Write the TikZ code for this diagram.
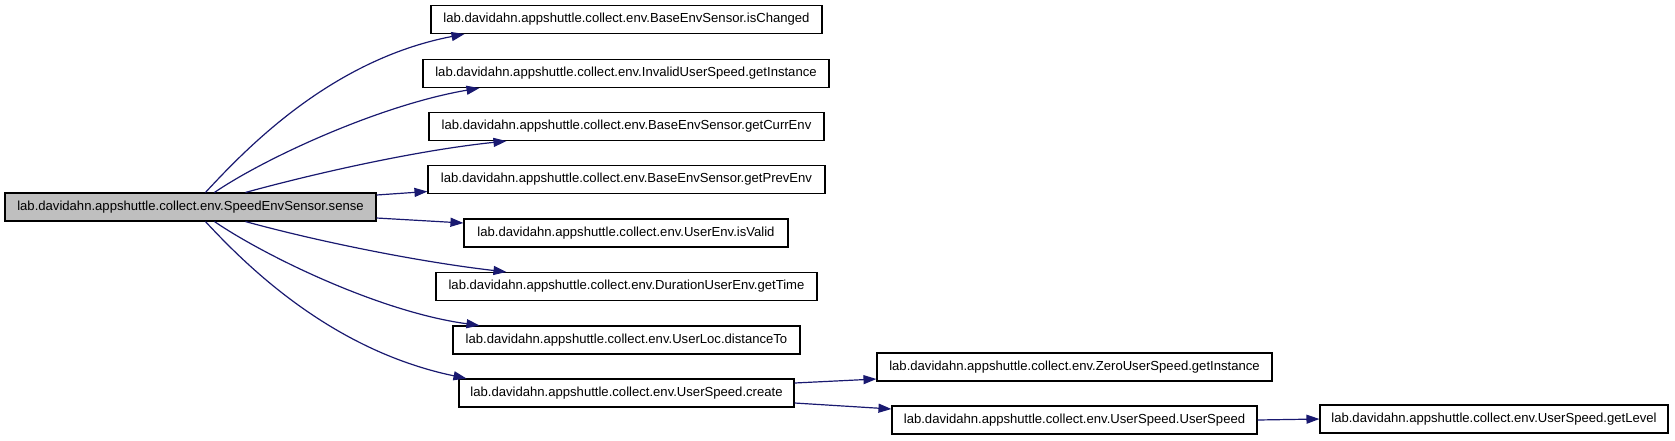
\documentclass[tikz,border=0pt]{standalone}
\usepackage{fontspec}
\setmainfont{Liberation Sans}
\usetikzlibrary{arrows.meta,calc}
\definecolor{edgeblue}{HTML}{191970}
\definecolor{mainfill}{HTML}{BFBFBF}
\tikzset{
  fn/.style={draw=black, line width=1.1pt, fill=white, minimum height=28pt, inner sep=0pt,
    font=\fontsize{13.1}{15}\selectfont, anchor=center},
  mainfn/.style={fn, fill=mainfill},
  call/.style={draw=edgeblue, line width=1.2pt, -{Triangle[length=13pt,width=9pt]}}
}
\begin{document}
\begin{tikzpicture}[x=1pt,y=-1pt]
\useasboundingbox (0,0) rectangle (1675,440);
\node[mainfn, minimum width=371pt] (main) at (190.5,207) {lab.davidahn.appshuttle.collect.env.SpeedEnvSensor.sense};
\node[fn, minimum width=391pt] (isch) at (626.5,19.5) {lab.davidahn.appshuttle.collect.env.BaseEnvSensor.isChanged};
\node[fn, minimum width=406pt] (inv) at (626,73.5) {lab.davidahn.appshuttle.collect.env.InvalidUserSpeed.getInstance};
\node[fn, minimum width=395pt] (curr) at (626.5,126.5) {lab.davidahn.appshuttle.collect.env.BaseEnvSensor.getCurrEnv};
\node[fn, minimum width=397pt] (prev) at (626.5,179.5) {lab.davidahn.appshuttle.collect.env.BaseEnvSensor.getPrevEnv};
\node[fn, minimum width=324pt] (valid) at (626,233) {lab.davidahn.appshuttle.collect.env.UserEnv.isValid};
\node[fn, minimum width=381pt] (time) at (626.5,286.5) {lab.davidahn.appshuttle.collect.env.DurationUserEnv.getTime};
\node[fn, minimum width=347pt] (dist) at (626.5,340) {lab.davidahn.appshuttle.collect.env.UserLoc.distanceTo};
\node[fn, minimum width=335pt] (create) at (626.5,393) {lab.davidahn.appshuttle.collect.env.UserSpeed.create};
\node[fn, minimum width=395pt] (zero) at (1074.5,367) {lab.davidahn.appshuttle.collect.env.ZeroUserSpeed.getInstance};
\node[fn, minimum width=365pt] (us) at (1074.5,420) {lab.davidahn.appshuttle.collect.env.UserSpeed.UserSpeed};
\node[fn, minimum width=348pt] (lvl) at (1494,419) {lab.davidahn.appshuttle.collect.env.UserSpeed.getLevel};

\draw[call] ($(main.north west)+(201,0)$) .. controls (245,150) and (330,60) .. ($(isch.south west)+(34,0)$);
\draw[call] ($(main.north west)+(210,0)$) .. controls (265,158) and (380,105) .. ($(inv.south west)+(57,0)$);
\draw[call] ($(main.north west)+(241,0)$) .. controls (320,172) and (420,150) .. ($(curr.south west)+(78,0)$);
\draw[call] ($(main.east)+(0,-12)$) -- ($(prev.west)+(0,12)$);
\draw[call] ($(main.east)+(0,11)$) -- ($(valid.west)+(0,-10)$);
\draw[call] ($(main.south west)+(241,0)$) .. controls (320,242) and (420,262) .. ($(time.north west)+(71,0)$);
\draw[call] ($(main.south west)+(210,0)$) .. controls (265,256) and (380,312) .. ($(dist.north west)+(27,0)$);
\draw[call] ($(main.south west)+(201,0)$) .. controls (245,264) and (330,350) .. ($(create.north west)+(8,0)$);
\draw[call] ($(create.east)+(0,-10)$) -- ($(zero.west)+(0,12)$);
\draw[call] ($(create.east)+(0,10)$) -- ($(us.west)+(0,-11)$);
\draw[call] (us.east) -- (lvl.west);
\end{tikzpicture}
\end{document}
